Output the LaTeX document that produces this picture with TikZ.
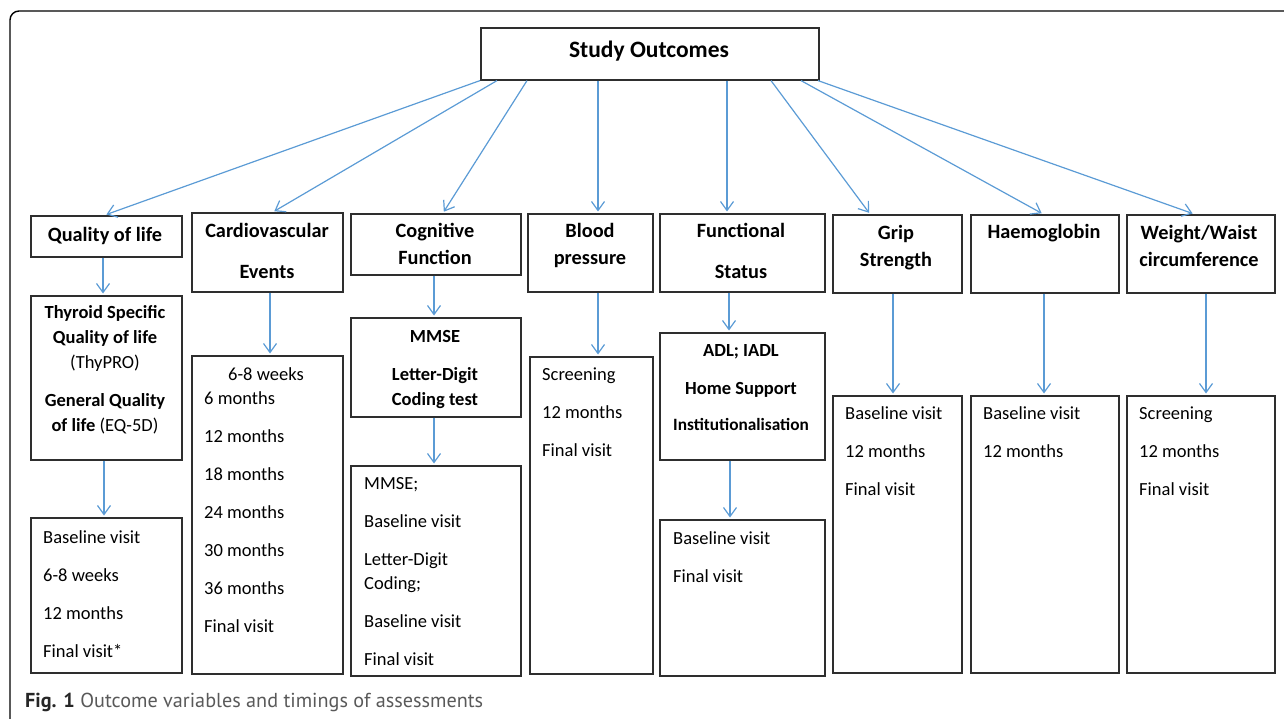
\documentclass[tikz,border=0pt]{standalone}
\usepackage{fontspec}
\setmainfont{Carlito}
\newfontfamily\capfont{PT Sans}
\usetikzlibrary{arrows.meta}
\usetikzlibrary{positioning}
\usetikzlibrary{calc}
\definecolor{linkblue}{HTML}{5B9BD5}
\definecolor{boxgray}{HTML}{2E2E2E}
\tikzset{
  box/.style={draw=boxgray, line width=1.6pt, anchor=north west, inner sep=0pt},
  head/.style={font=\fontsize{20.3}{27}\selectfont\bfseries, align=center, anchor=base, inner sep=0pt},
  times/.style={font=\fontsize{18.5}{38}\selectfont, align=left, anchor=base west, inner sep=0pt},
  link/.style={draw=linkblue, line width=1.2pt, shorten >=1.5pt, -{Straight Barb[length=9pt,width=13pt]}},
  frame/.style={draw=black, line width=1.4pt, rounded corners=9pt},
}

\begin{document}
\begin{tikzpicture}[x=1pt, y=-1pt]
  \useasboundingbox (0,0) rectangle (1284,719);
  \begin{scope}
    \clip (0,0) rectangle (1284,719);
    \draw[frame] (10,11) rectangle (1320,735);
  \end{scope}

  \foreach \name/\xa/\ya/\xb/\yb in {study/480/27/818/79,
      qol/30/215/181/256, cvd/191/212/342/291, cog/350/213/520/274, bp/527/213/652/291,
      fs/659/213/824/291, grip/832/214/961/292, hb/970/214/1118/292, ww/1126/214/1274/292,
      qol2/30/295/181/459, cog2/350/317/520/416, fs2/659/332/824/459,
      qol3/30/517/181/672, cvd3/191/355/342/673, cog3/350/465/520/675, bp3/529/356/652/673,
      fs3/659/519/824/675, grip3/832/395/961/672, hb3/970/395/1118/672, ww3/1126/395/1274/672} {
    \node[box, minimum width=\xb-\xa, minimum height=\yb-\ya] (\name) at (\xa,\ya) {};
  }

  % text nodes sit on the baseline of their last line
  \node[head, font=\fontsize{23.5}{27}\selectfont\bfseries] (study-t) at (649,58) {Study Outcomes};

  \node[head] (qol-t) at (105,242) {Quality of life};
  \node[head, font=\fontsize{20.3}{40}\selectfont\bfseries] (cvd-t) at (267,278) {Cardiovascular\\Events};
  \node[head] (cog-t) at (435,265) {Cognitive\\Function};
  \node[head] (bp-t) at (590,265) {Blood\\pressure};
  \node[head, font=\fontsize{20.3}{41}\selectfont\bfseries] (fs-t) at (741,279) {Functional\\Status};
  \node[head] (grip-t) at (896,266) {Grip\\Strength};
  \node[head] (hb-t) at (1044,239) {Haemoglobin};
  \node[head] (ww-t) at (1199,266) {Weight/Waist\\circumference};

  \node[head, font=\fontsize{18.5}{25}\selectfont\bfseries] (qol2-t) at (105,431)
    {Thyroid Specific\\Quality of life\\\mdseries(ThyPRO)\\[13pt]General Quality\\of life \mdseries(EQ-5D)};
  \node[head, font=\fontsize{18.5}{38}\selectfont\bfseries] (cog2-t) at (435,405)
    {MMSE\\Letter-Digit\\[-13pt]Coding test};
  \node[head, font=\fontsize{18.5}{38}\selectfont\bfseries] (fs2-t) at (741,430)
    {ADL; IADL\\Home Support\\[-2pt]{\fontsize{17.3}{36}\selectfont Institutionalisation}};

  \node[times] (qol3-t) at (43,657) {Baseline visit\\6-8 weeks\\12 months\\Final visit*};
  \node[times] (cvd3-t) at (204,632) {\hspace*{24pt}6-8 weeks\\[-14pt]6 months\\12 months\\18 months\\24 months\\30 months\\36 months\\Final visit};
  \node[times] (cog3-t) at (364,665) {MMSE;\\Baseline visit\\Letter-Digit\\[-14pt]Coding;\\Baseline visit\\Final visit};
  \node[times] (bp3-t) at (542,456) {Screening\\12 months\\Final visit};
  \node[times] (fs3-t) at (673,582) {Baseline visit\\Final visit};
  \node[times] (grip3-t) at (845,495) {Baseline visit\\12 months\\Final visit};
  \node[times] (hb3-t) at (983,457) {Baseline visit\\12 months};
  \node[times] (ww3-t) at (1139,495) {Screening\\12 months\\Final visit};

  \foreach \b/\sx/\ex in {qol/0/75, cvd/17/82, cog/47/93, bp/118/71, fs/247/68, grip/291/38, hb/321/73, ww/338/68} {
    \draw[link] ($(study.south west)+(\sx,0)$) -- ($(\b.north west)+(\ex,0)$);
  }
  \foreach \a/\b/\dx in {qol/qol2/73, qol2/qol3/74, cvd/cvd3/79, cog/cog2/84, cog2/cog3/84, bp/bp3/71,
      fs/fs2/70, fs2/fs3/71, grip/grip3/61, hb/hb3/74, ww/ww3/80} {
    \draw[link] ($(\a.south west)+(\dx,0)$) coordinate (s) -- (s |- \b.north);
  }

  \node[anchor=base west, inner sep=0pt, font=\capfont\fontsize{20.2}{24}\selectfont, text=black!65] (caption) at (25,707)
    {\textcolor{black!85}{\bfseries Fig. 1} Outcome variables and timings of assessments};
\end{tikzpicture}
\end{document}
